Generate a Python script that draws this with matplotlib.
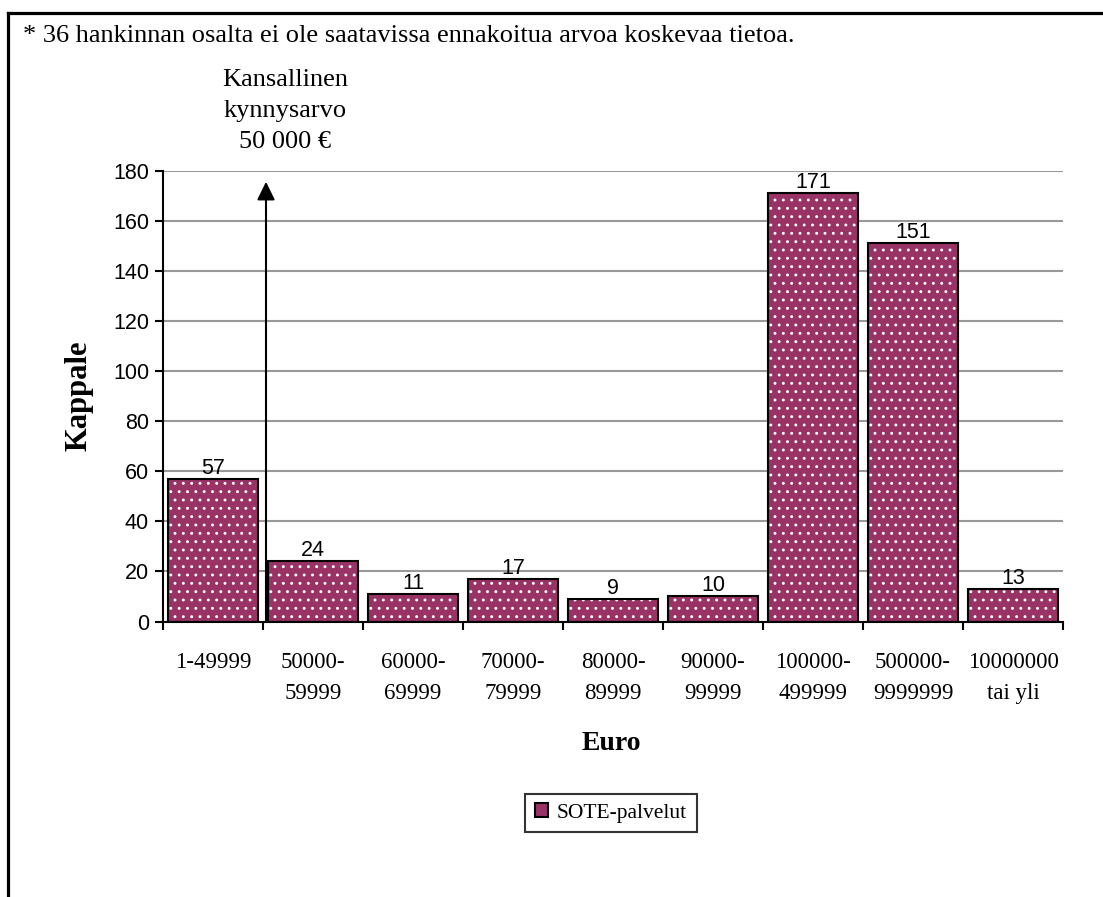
import numpy as np
import matplotlib.pyplot as plt
from matplotlib.lines import Line2D

# Hankinnat ennakoidun arvon mukaan
categories = ['1-49999', '50000-\n59999', '60000-\n69999', '70000-\n79999',
              '80000-\n89999', '90000-\n99999', '100000-\n499999',
              '500000-\n9999999', '10000000\ntai yli']
counts = [57, 24, 11, 17, 9, 10, 171, 151, 13]
series_name = 'SOTE-palvelut'
note = '* 36 hankinnan osalta ei ole saatavissa ennakoitua arvoa koskevaa tietoa.'
threshold_text = 'Kansallinen\nkynnysarvo\n50 000 €'

serif = 'Liberation Serif'
sans = 'Liberation Sans'
plum = '#993366'

plt.rcParams['hatch.linewidth'] = 0.9

fig = plt.figure(figsize=(11.03, 8.97), dpi=100)
ax = fig.add_axes([163/1103, 1 - 621.5/897, 900/1103, 451/897])

x = np.arange(len(counts))
# fill with white dot pattern, then black outline on top
ax.bar(x, counts, width=0.9, color=plum, edgecolor='white', linewidth=0,
       hatch='..', zorder=3)
ax.bar(x, counts, width=0.9, fill=False, edgecolor='black', linewidth=1.5,
       zorder=4)

for xi, v in zip(x, counts):
    ax.annotate(str(v), (xi, v), xytext=(0, 0), textcoords='offset points',
                ha='center', va='bottom', fontsize=15.5, family=sans, zorder=5)

ax.set_xlim(-0.5, len(counts) - 0.5)
ax.set_ylim(0, 180)
ax.set_yticks(np.arange(0, 181, 20))
ax.set_xticks(x)
ax.set_xticklabels(categories, fontsize=16.5, family=serif, linespacing=1.65,
                   va='top')
ax.set_xticks(np.arange(-0.5, len(counts), 1), minor=True)
ax.tick_params(axis='x', which='major', length=0, pad=22)
ax.tick_params(axis='x', which='minor', length=6, width=1.5, direction='out')
ax.tick_params(axis='y', length=6, width=1.5, direction='out', pad=4)
for lab in ax.get_yticklabels():
    lab.set_fontfamily(sans)
    lab.set_fontsize(15.5)

ax.grid(axis='y', color='#999999', linewidth=1.5, zorder=0)
ax.set_axisbelow(True)
for side in ['top', 'right']:
    ax.spines[side].set_visible(False)
for side in ['left', 'bottom']:
    ax.spines[side].set_linewidth(1.5)
    ax.spines[side].set_zorder(6)

ax.set_ylabel('Kappale', fontsize=22, family=serif, fontweight='bold',
              labelpad=14)
fig.text(611/1103, 1 - 743/897, 'Euro', fontsize=20, family=serif,
         fontweight='bold', ha='center', va='center')

# kynnysarvon nuoli
ax.annotate('', xy=(0.53, 175.5), xytext=(0.53, 0),
            arrowprops=dict(arrowstyle='-|>,head_length=0.55,head_width=0.27',
                            mutation_scale=20, color='black', lw=1.5,
                            shrinkA=0, shrinkB=0),
            zorder=5)
fig.text(285/1103, 1 - 111/897, threshold_text, fontsize=19, family=serif,
         ha='center', va='center', linespacing=1.5)

fig.text(23/1103, 1 - 36/897, note, fontsize=19, family=serif,
         ha='left', va='center')

# legend
handle = plt.Rectangle((0, 0), 1, 1, facecolor=plum, edgecolor='black',
                       linewidth=1.5)
leg = fig.legend([handle], [series_name], loc='center',
                 bbox_to_anchor=(611/1103, 1 - 813/897),
                 prop={'family': serif, 'size': 15.5}, frameon=True,
                 fancybox=False, handlelength=0.6, handleheight=0.6,
                 handletextpad=0.4, borderpad=0.45, borderaxespad=0)
leg.get_frame().set_edgecolor('black')
leg.get_frame().set_linewidth(1.5)

# outer frame (top and left edges)
fig.add_artist(Line2D([7.5/1103, 1], [1 - 13.5/897, 1 - 13.5/897],
                      transform=fig.transFigure, color='black', lw=2.3))
fig.add_artist(Line2D([7.5/1103, 7.5/1103], [1 - 13.5/897, 0],
                      transform=fig.transFigure, color='black', lw=2.3))

fig.savefig('out.png', dpi=100)
